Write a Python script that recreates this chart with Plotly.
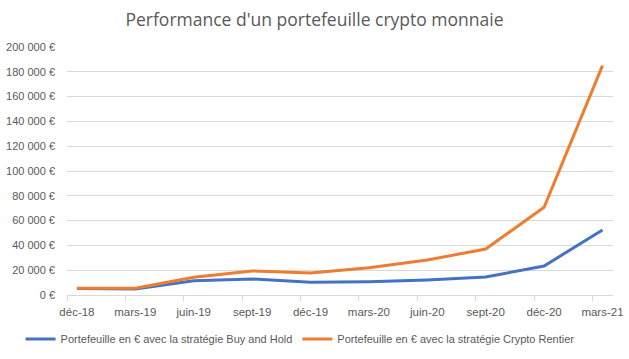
import plotly.graph_objects as go

categories = ["déc-18", "mars-19", "juin-19", "sept-19", "déc-19", "mars-20",
              "juin-20", "sept-20", "déc-20", "mars-21"]
buy_hold = [5200, 4800, 11500, 12900, 10200, 10700, 12100, 14500, 23400, 52400]
crypto_rentier = [5400, 5400, 14300, 19400, 17700, 22000, 28200, 37100, 70700, 185000]
series_names = ["Portefeuille en € avec la stratégie Buy and Hold",
                "Portefeuille en € avec la stratégie Crypto Rentier"]
title_text = "Performance d'un portefeuille crypto monnaie"

x = list(range(len(categories)))
font_family = "Liberation Sans, Arial, sans-serif"
grey = "#595959"

fig = go.Figure()
fig.add_trace(go.Scatter(x=x, y=buy_hold, mode="lines", name=series_names[0],
                         line=dict(color="#4472C4", width=3)))
fig.add_trace(go.Scatter(x=x, y=crypto_rentier, mode="lines", name=series_names[1],
                         line=dict(color="#ED7D31", width=3)))

fig.update_layout(
    width=629, height=359,
    margin=dict(l=67, r=16, t=47, b=64, autoexpand=False),
    paper_bgcolor="white", plot_bgcolor="white",
    separators=", ",
    font=dict(family=font_family, color=grey, size=11),
    title=dict(text=title_text, x=0.5, xanchor="center", y=0.945, yanchor="middle",
               font=dict(size=17.5, color=grey, family="Open Sans, Liberation Sans, sans-serif")),
    showlegend=True,
    legend=dict(orientation="h", x=-0.085, xanchor="left",
                y=-0.177, yanchor="middle",
                font=dict(size=11, color=grey), itemwidth=30, tracegroupgap=0,
                bgcolor="rgba(0,0,0,0)"),
)
fig.update_xaxes(
    range=[-0.17, 9.18], tickmode="array", tickvals=x, ticktext=categories,
    showgrid=False, zeroline=False, showline=True, linecolor="#d9d9d9", linewidth=1,
    ticks="", ticklen=0, tickfont=dict(size=11.5, color=grey), ticklabelstandoff=6,
    minor=dict(ticks="outside", tick0=-0.17, dtick=1, ticklen=5, tickcolor="#d9d9d9",
               showgrid=False),
    automargin=False, fixedrange=True,
)
fig.update_yaxes(
    range=[0, 200000], dtick=20000, tickformat=",d", ticksuffix=" €",
    showgrid=True, gridcolor="#d9d9d9", gridwidth=1, zeroline=False,
    showline=False, ticks="", tickfont=dict(size=11, color=grey), ticklabelstandoff=11,
    automargin=False, fixedrange=True,
)

fig.write_html("out.html", config={"displayModeBar": False},
               post_script="document.body.style.margin='0px';document.body.style.overflow='hidden';")
